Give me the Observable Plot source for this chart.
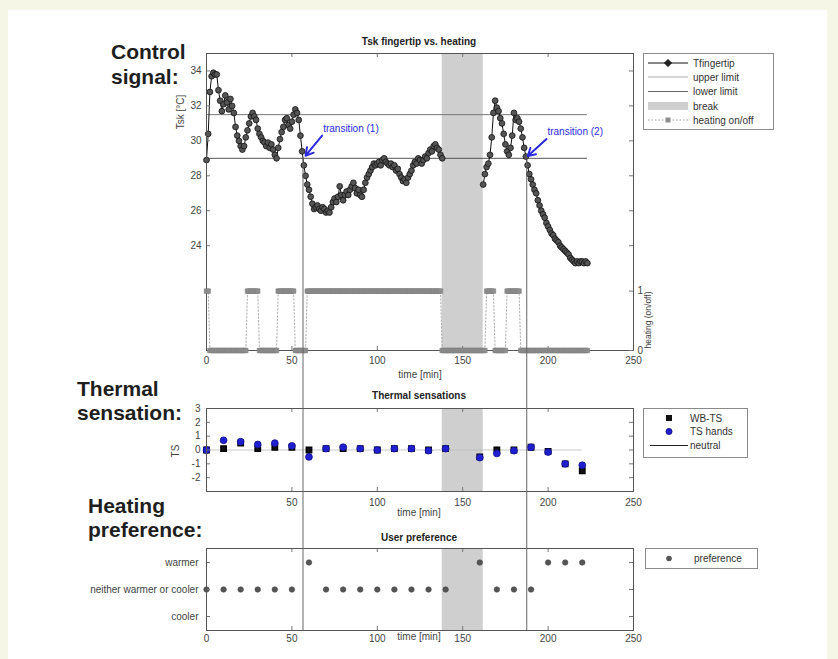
<!DOCTYPE html>
<html><head><meta charset="utf-8">
<script src="https://cdn.jsdelivr.net/npm/d3@7"></script>
<script src="https://cdn.jsdelivr.net/npm/@observablehq/plot@0.6"></script>
<style>
body{margin:0;background:#f6f6e6;}
#wrap{position:relative;width:838px;height:659px;background:#f6f6e6;overflow:hidden;font-family:"Liberation Sans",Arial,sans-serif;}
#panel{position:absolute;left:8px;top:10px;width:819px;height:649px;background:#fff;}
#wrap svg{position:absolute;left:0;max-width:none;}
</style></head>
<body><div id="wrap"><div id="panel"></div></div>
<script>
// ---------------- data ----------------
const tsk1Start = 0;           // first session, 1 sample per minute
const tsk1 = [28.9,30.4,32.8,33.7,33.9,33.8,33.8,32.9,32.3,31.7,
32.1,32.6,32.2,31.8,32.4,32.0,31.6,30.8,30.3,30.0,
29.7,29.5,29.7,30.2,30.6,31.0,31.4,31.6,31.4,31.2,
30.7,30.4,30.2,30.0,29.9,29.7,29.9,29.6,29.8,29.5,
29.2,29.0,29.6,30.1,30.5,30.8,31.2,31.3,30.9,30.7,
31.1,31.5,31.8,31.6,31.2,30.3,29.4,28.6,28.0,27.5,
27.2,26.8,26.4,26.1,26.2,26.3,26.1,26.0,26.2,26.1,
25.9,26.0,25.9,26.2,26.5,26.7,26.5,26.8,27.4,26.9,
26.6,26.9,27.1,26.9,27.2,27.4,27.6,27.3,27.0,27.2,
26.9,26.8,27.2,27.6,27.9,28.1,28.3,28.5,28.7,28.6,
28.7,28.8,28.6,28.9,29.0,28.8,28.7,28.6,28.7,28.5,
28.6,28.3,28.4,28.1,27.9,27.7,27.8,27.6,27.9,28.1,
28.3,28.6,28.8,28.7,29.0,28.9,28.7,28.9,29.1,29.0,
29.3,29.5,29.4,29.7,29.8,29.6,29.5,29.2,29.0];
const tsk2Start = 162;         // second session after the break
const tsk2 = [27.5,28.1,28.5,28.7,29.2,30.2,31.6,32.3,31.9,31.7,
31.3,31.0,30.4,29.8,29.4,29.2,29.6,30.3,31.6,31.2,
31.3,31.1,30.7,30.2,29.6,29.1,28.6,28.1,27.8,27.5,
27.2,27.0,26.6,26.3,26.0,25.8,25.6,25.3,25.1,24.9,
24.7,24.6,24.4,24.3,24.2,24.0,23.9,23.8,23.7,23.6,
23.5,23.3,23.2,23.1,23.0,23.1,23.0,23.1,23.1,23.0,
23.1,23.0];
const heating = [1,1,0,0,0,0,0,0,0,0, 0,0,0,0,0,0,0,0,0,0,
0,0,0,0,1,1,1,1,1,1, 1,0,0,0,0,0,0,0,0,0,
0,0,1,1,1,1,1,1,1,1, 1,1,0,0,0,0,0,0,0,1,
1,1,1,1,1,1,1,1,1,1, 1,1,1,1,1,1,1,1,1,1,
1,1,1,1,1,1,1,1,1,1, 1,1,1,1,1,1,1,1,1,1,
1,1,1,1,1,1,1,1,1,1, 1,1,1,1,1,1,1,1,1,1,
1,1,1,1,1,1,1,1,1,1, 1,1,1,1,1,1,1,1,0,0,
0,0,0,0,0,0,0,0,0,0, 0,0,0,0,0,0,0,0,0,0,
0,0,0,0,1,1,1,1,1,0, 0,0,0,0,0,0,1,1,1,1,
1,1,1,1,0,0,0,0,0,0, 0,0,0,0,0,0,0,0,0,0,
0,0,0,0,0,0,0,0,0,0, 0,0,0,0,0,0,0,0,0,0,
0,0,0,0];
const upperLimit = 31.5, lowerLimit = 29, limitEnd = 223;
const breakWindow = [{start:138, end:162}];
const transitions = [56.5, 187.5];
const annotations = [
  {label:"transition (1)", t:68.3, v:30.7, t1:67.7, v1:30.3, t2:58, v2:29.15},
  {label:"transition (2)", t:199.6, v:30.5, t1:199.1, v1:30.1, t2:188.1, v2:29.13}
];
const tsTimes = [0,10,20,30,40,50,60,70,80,90,100,110,120,130,140,160,170,180,190,200,210,220];
const wbTS    = [0,0.1,0.5,0.1,0.2,0.2,0,0.1,0.1,0.1,0,0.1,0.1,0,0.1,-0.5,0,0,0.2,-0.1,-1.0,-1.5];
const tsHands = [0,0.7,0.6,0.4,0.5,0.3,-0.5,0.1,0.2,0.1,0,0.1,0.1,-0.05,0.1,-0.55,-0.25,-0.05,0.2,-0.15,-1.0,-1.1];
const prefLevels = ["warmer","neither warmer or cooler","cooler"];
const preference = ["neither warmer or cooler","neither warmer or cooler","neither warmer or cooler","neither warmer or cooler","neither warmer or cooler","neither warmer or cooler",
  "warmer",
  "neither warmer or cooler","neither warmer or cooler","neither warmer or cooler","neither warmer or cooler","neither warmer or cooler","neither warmer or cooler","neither warmer or cooler","neither warmer or cooler",
  "warmer",
  "neither warmer or cooler","neither warmer or cooler","neither warmer or cooler",
  "warmer","warmer","warmer"];
const xTicks = [0,50,100,150,200,250];
const xTicksTS = [50,100,150,200,250];
const tskTicks = [24,26,28,30,32,34];
const heatTicks = [0,1];
const tsTicks = [-2,-1,0,1,2,3];
const tsTickMarks = [-3,-2,-1,0,1,2,3];

// ---------------- tables ----------------
const tskRows = tsk1.map((v,i)=>({t:tsk1Start+i, v, seg:1}))
  .concat(tsk2.map((v,i)=>({t:tsk2Start+i, v, seg:2})));
const heatRows = heating.map((h,i)=>({t:i, h}));
const tsRows = tsTimes.map((t,i)=>({t, wb:wbTS[i], hands:tsHands[i], pref:preference[i]}));
const limits = [{y:upperLimit, x1:0, x2:limitEnd, c:"#777"},{y:lowerLimit, x1:0, x2:limitEnd, c:"#555"}];

// ---------------- layout ----------------
const W = 838, ML = 206, MR = 205, FW = W-ML-MR;
const font = "Liberation Sans, Arial, sans-serif";
const baseStyle = {background:"transparent", fontFamily:font, fontSize:"10px", color:"#444", overflow:"visible"};
const frameCol = "#555", tickCol = "#777", TL = 4;
const intFmt = d => String(d);
const wrap = document.getElementById("wrap");
function place(svg, top){ svg.style.top = top+"px"; wrap.appendChild(svg); return svg; }
function inwardX(ticks, fh){ return [
  Plot.ruleX(ticks,{insetTop:fh-TL, stroke:tickCol}),
  Plot.ruleX(ticks,{insetBottom:fh-TL, stroke:tickCol})]; }
function inwardY(ticks, left, right){ const m=[];
  if(left) m.push(Plot.ruleY(ticks,{insetRight:FW-TL, stroke:tickCol}));
  if(right) m.push(Plot.ruleY(ticks,{insetLeft:FW-TL, stroke:tickCol}));
  return m; }

// ---- Plot 1: Tsk fingertip ----
const P1top=0, P1H=390, P1mt=53, P1mb=40, P1FH=P1H-P1mt-P1mb;
const p1 = Plot.plot({
  width:W, height:P1H, marginLeft:ML, marginRight:MR, marginTop:P1mt, marginBottom:P1mb,
  style:baseStyle,
  x:{domain:[0,250]}, y:{domain:[18,35]},
  marks:[
    Plot.rect(breakWindow,{x1:"start", x2:"end", fill:"#cfcfcf"}),
    Plot.ruleY(limits,{y:"y", x1:"x1", x2:"x2", stroke:"c", strokeWidth:1}),
    Plot.line(tskRows,{x:"t", y:"v", z:"seg", stroke:"#111", strokeWidth:1}),
    Plot.dot(tskRows,{x:"t", y:"v", r:2.9, fill:"#555", stroke:"#111", strokeWidth:0.8}),
    Plot.arrow(annotations,{x1:"t1", y1:"v1", x2:"t2", y2:"v2", stroke:"#2a2ae0", strokeWidth:2, headLength:7}),
    Plot.text(annotations,{x:"t", y:"v", text:"label", textAnchor:"start", fill:"#2a2ae0", fontSize:10}),
    ...inwardX(xTicks, P1FH),
    ...inwardY(tskTicks, true, true),
    Plot.frame({stroke:frameCol}),
    Plot.axisX({ticks:xTicks, tickSize:0, tickPadding:6, label:null, tickFormat:intFmt}),
    Plot.axisY({ticks:tskTicks, anchor:"left", tickSize:0, tickPadding:5, label:null, tickFormat:intFmt})
  ]
});
place(p1, P1top);

// heating on/off on the right-hand axis
const p1b = Plot.plot({
  width:W, height:P1H, marginLeft:ML, marginRight:MR, marginTop:P1mt, marginBottom:P1mb,
  style:baseStyle,
  x:{domain:[0,250], axis:null}, y:{domain:[0,5]},
  marks:[
    Plot.line(heatRows,{x:"t", y:"h", stroke:"#999", strokeWidth:0.8, strokeDasharray:"1.5,2"}),
    Plot.dot(heatRows,{x:"t", y:"h", symbol:"square", r:2.6, fill:"#8e8e8e", stroke:"#7c7c7c", strokeWidth:0.5}),
    ...inwardY(heatTicks, false, true),
    Plot.axisY({ticks:heatTicks, anchor:"right", tickSize:0, tickPadding:4, label:null, tickFormat:intFmt})
  ]
});
place(p1b, P1top);

// ---- Plot 2: Thermal sensations ----
const P2top=380, P2H=140, P2mt=28, P2mb=29, P2FH=P2H-P2mt-P2mb;
const p2 = Plot.plot({
  width:W, height:P2H, marginLeft:ML, marginRight:MR, marginTop:P2mt, marginBottom:P2mb,
  style:baseStyle,
  x:{domain:[0,250]}, y:{domain:[-3,3]},
  marks:[
    Plot.rect(breakWindow,{x1:"start", x2:"end", fill:"#cfcfcf"}),
    Plot.ruleY([0],{x1:0, x2:220, stroke:"#bbb", strokeWidth:0.8}),
    Plot.dot(tsRows,{x:"t", y:"wb", symbol:"square", r:3, fill:"#111", stroke:"#000"}),
    Plot.dot(tsRows,{x:"t", y:"hands", r:3.4, fill:"#1f1fd0", stroke:"#121290", strokeWidth:0.8}),
    ...inwardX(xTicks, P2FH),
    ...inwardY(tsTickMarks, true, true),
    Plot.frame({stroke:frameCol}),
    Plot.axisX({ticks:xTicksTS, tickSize:0, tickPadding:7, label:null, tickFormat:intFmt}),
    Plot.axisY({ticks:tsTicks, anchor:"left", tickSize:0, tickPadding:6, label:null, tickFormat:intFmt})
  ]
});
place(p2, P2top);

// ---- Plot 3: User preference ----
const P3top=520, P3H=139, P3mt=28, P3mb=29, P3FH=P3H-P3mt-P3mb;
const p3 = Plot.plot({
  width:W, height:P3H, marginLeft:ML, marginRight:MR, marginTop:P3mt, marginBottom:P3mb,
  style:baseStyle,
  x:{domain:[0,250]}, y:{type:"point", domain:prefLevels, padding:0.5},
  marks:[
    Plot.rect(breakWindow,{x1:"start", x2:"end", fill:"#cfcfcf"}),
    Plot.dot(tsRows,{x:"t", y:"pref", r:2.8, fill:"#555", stroke:"#444", strokeWidth:0.5}),
    ...inwardX(xTicks, P3FH),
    ...inwardY(prefLevels, true, true),
    Plot.frame({stroke:frameCol}),
    Plot.axisX({ticks:xTicks, tickSize:0, tickPadding:4, label:null, tickFormat:intFmt}),
    Plot.axisY({anchor:"left", tickSize:0, tickPadding:8, label:null})
  ]
});
place(p3, P3top);

// ---- transition lines through all panels ----
const yTrans = P1top + p1.scale("y").apply(lowerLimit);
const bottom3 = P3top + P3H - P3mb;
const pv = Plot.plot({
  width:W, height:659, marginLeft:ML, marginRight:MR, marginTop:yTrans, marginBottom:659-bottom3,
  style:baseStyle, x:{domain:[0,250], axis:null}, y:{axis:null},
  marks:[Plot.ruleX(transitions,{stroke:"#666", strokeWidth:1})]
});
place(pv, 0);

// ---- text: headings, titles, axis labels, legends ----
const ns = "http://www.w3.org/2000/svg";
const svg = document.createElementNS(ns,"svg");
svg.setAttribute("width",W); svg.setAttribute("height",659);
svg.style.top="0px"; svg.style.fontFamily=font;
function el(tag, attrs, text){ const e=document.createElementNS(ns,tag);
  for(const k in attrs) e.setAttribute(k, attrs[k]); if(text!=null) e.textContent=text; svg.appendChild(e); return e; }
// section headings
const H = {"font-size":21, "font-weight":"bold", fill:"#1e1e1e"};
el("text",{x:111,y:59,...H},"Control");
el("text",{x:111,y:84,...H},"signal:");
el("text",{x:77,y:396,...H},"Thermal");
el("text",{x:77,y:420,...H},"sensation:");
el("text",{x:88,y:513,...H},"Heating");
el("text",{x:88,y:537,...H},"preference:");
// panel titles
const T = {"font-size":10, "font-weight":"bold", fill:"#222", "text-anchor":"middle"};
el("text",{x:419,y:44.5,...T},"Tsk fingertip vs. heating");
el("text",{x:419,y:398.5,...T},"Thermal sensations");
el("text",{x:419,y:540.5,...T},"User preference");
// axis labels
const A = {"font-size":10, fill:"#444", "text-anchor":"middle"};
el("text",{x:420,y:377.5,...A},"time [min]");
el("text",{x:419,y:515.5,...A},"time [min]");
el("text",{x:419,y:639.5,...A},"time [min]");
el("text",{x:0,y:0,...A, transform:"translate(184,112) rotate(-90)"},"Tsk [°C]");
el("text",{x:0,y:0,...A, transform:"translate(179,451) rotate(-90)"},"TS");
el("text",{x:0,y:0,...A, "font-size":8.5, transform:"translate(651,320) rotate(-90)"},"heating (on/off)");
// legend 1
const L = {"font-size":10, fill:"#333"};
el("rect",{x:643.5,y:53.5,width:130,height:76,fill:"#fff",stroke:"#8a8a8a"});
el("line",{x1:648,x2:688,y1:63,y2:63,stroke:"#111"});
el("path",{d:"M668,59.5L671.5,63L668,66.5L664.5,63Z",fill:"#222",stroke:"#111"});
el("text",{x:693,y:66.5,...L},"Tfingertip");
el("line",{x1:648,x2:688,y1:77,y2:77,stroke:"#aaa"});
el("text",{x:693,y:80.5,...L},"upper limit");
el("line",{x1:648,x2:688,y1:91.5,y2:91.5,stroke:"#666"});
el("text",{x:693,y:95,...L},"lower limit");
el("rect",{x:648,y:102,width:40,height:8,fill:"#cfcfcf"});
el("text",{x:693,y:109.5,...L},"break");
el("line",{x1:648,x2:688,y1:120,y2:120,stroke:"#999","stroke-dasharray":"1.5,2"});
el("rect",{x:665.5,y:117.5,width:5,height:5,fill:"#8e8e8e"});
el("text",{x:693,y:123.5,...L},"heating on/off");
// legend 2
el("rect",{x:643.5,y:408.5,width:104,height:49,fill:"#fff",stroke:"#8a8a8a"});
el("rect",{x:666,y:415,width:6,height:6,fill:"#111"});
el("text",{x:690,y:421.5,...L},"WB-TS");
el("circle",{cx:669,cy:431.5,r:3,fill:"#1f1fd0",stroke:"#121290"});
el("text",{x:690,y:435,...L},"TS hands");
el("line",{x1:650,x2:688,y1:445.5,y2:445.5,stroke:"#222"});
el("text",{x:690,y:449,...L},"neutral");
// legend 3
el("rect",{x:645.5,y:548.5,width:112,height:20,fill:"#fff",stroke:"#8a8a8a"});
el("circle",{cx:669,cy:558.5,r:2.8,fill:"#555"});
el("text",{x:694,y:562,...L},"preference");
wrap.appendChild(svg);
</script>
</body></html>
